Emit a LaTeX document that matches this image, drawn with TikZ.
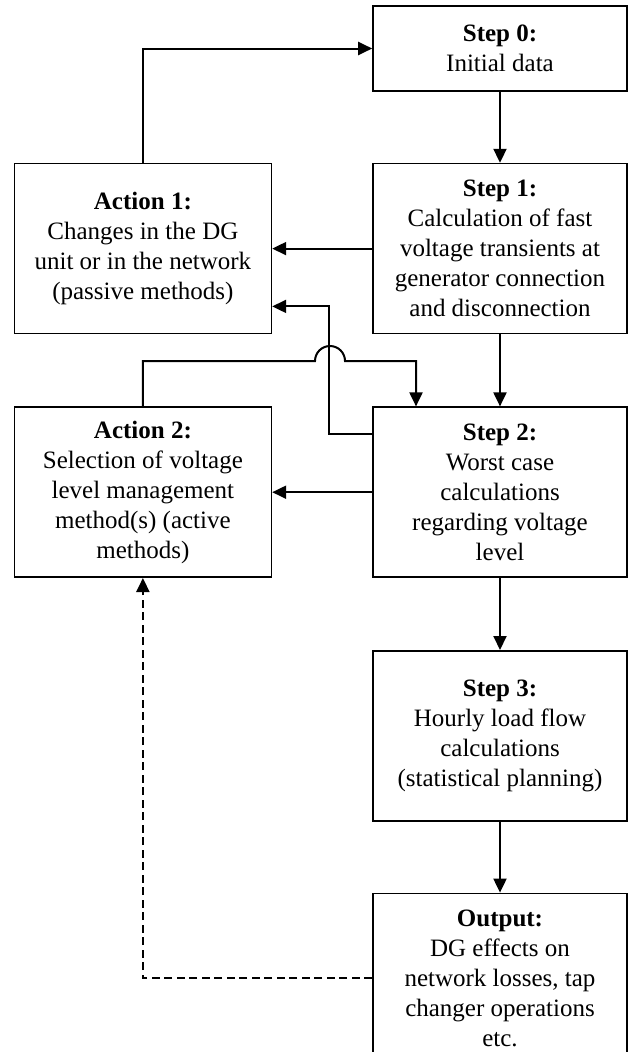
\documentclass[tikz,border=0pt]{standalone}
\usepackage{fontspec}
\setmainfont{Liberation Serif}
\usetikzlibrary{arrows.meta,positioning}

\begin{document}
\begin{tikzpicture}[
  x=1pt, y=1pt,
  node distance=71pt and 100pt,
  box/.style={draw, line width=1.6pt, minimum width=254pt, minimum height=170pt, align=center, font={\fontsize{25}{30}\selectfont}, inner sep=2pt},
  arr/.style={-{Triangle[length=14pt,width=13pt]}, line width=2pt}
]
  \path[use as bounding box, clip] (0,0) rectangle (635,-1052);
  \node[box, minimum height=85pt] (s0) at (500,-48.5) {\textbf{Step 0:}\\Initial data};
  \node[box, below=of s0] (s1) {\textbf{Step 1:}\\Calculation of fast\\voltage transients at\\generator connection\\and disconnection};
  \node[box, below=72pt of s1] (s2) {\textbf{Step 2:}\\Worst case\\calculations\\regarding voltage\\level};
  \node[box, below=72pt of s2] (s3) {\textbf{Step 3:}\\Hourly load flow\\calculations\\(statistical planning)};
  \node[box, below=of s3] (out) {\textbf{Output:}\\DG effects on\\network losses, tap\\changer operations\\etc.};
  \node[box, left=of s1, minimum width=257pt] (a1) {\textbf{Action 1:}\\Changes in the DG\\unit or in the network\\(passive methods)};
  \node[box, left=of s2, minimum width=257pt] (a2) {\textbf{Action 2:}\\Selection of voltage\\level management\\method(s) (active\\methods)};
  \draw[arr] (s0) -- (s1);
  \draw[arr] (s1) -- (s2);
  \draw[arr] (s2) -- (s3);
  \draw[arr] (s3) -- (out);
  \draw[arr] (s1) -- (a1);
  \draw[arr] (s2) -- (a2);
  \draw[arr] (a1.north) |- (s0.west);
  \draw[arr] ([yshift=-28pt]s2.north west) -- ++(-43pt,0) |- ([yshift=28pt]a1.south east);
  \draw[arr] (a2.north) |- (315,-361) arc[start angle=180, end angle=0, radius=15pt] -| ([xshift=-84pt]s2.north);
  \draw[arr, dash pattern=on 8pt off 4.5pt] (out.west) -| (a2.south);
\end{tikzpicture}
\end{document}
